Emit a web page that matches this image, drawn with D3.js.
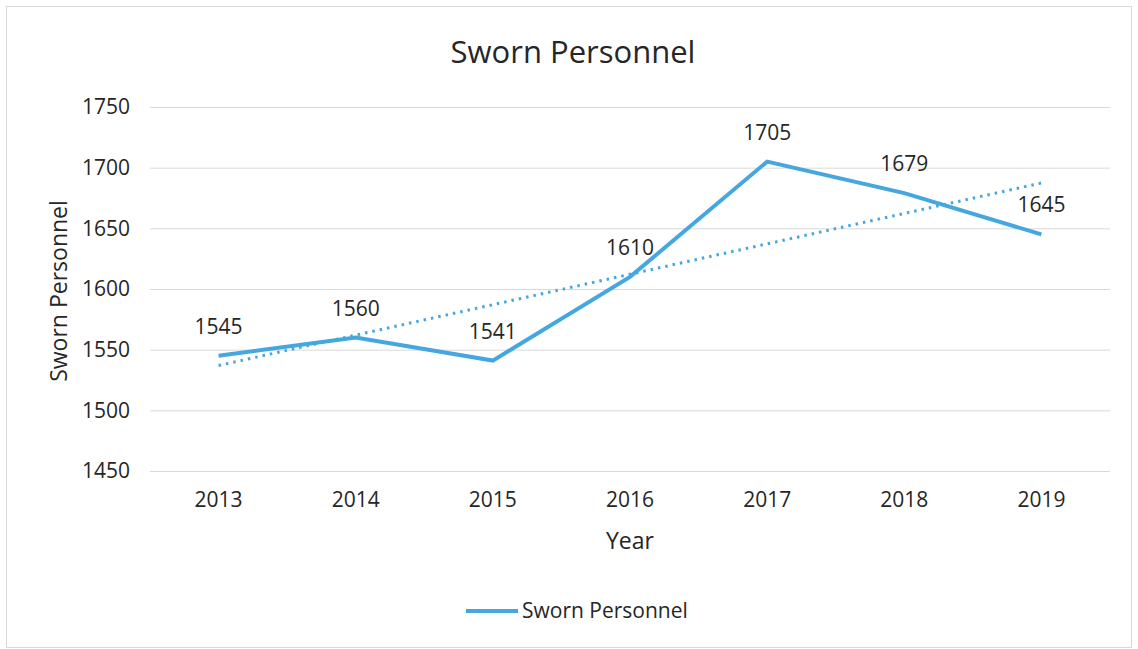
<!DOCTYPE html>
<html>
<head>
<meta charset="utf-8">
<script src="https://cdn.jsdelivr.net/npm/d3@7"></script>
<style>
  body { margin: 0; background: #fff; }
  text { font-family: "Open Sans", sans-serif; fill: #262626; }
</style>
</head>
<body>
<div id="chart"></div>
<script>
const years = ["2013", "2014", "2015", "2016", "2017", "2018", "2019"];
const sworn = [1545, 1560, 1541, 1610, 1705, 1679, 1645];
const yTicks = [1450, 1500, 1550, 1600, 1650, 1700, 1750];

const W = 1138, H = 649;
const margin = { top: 107, right: 28, bottom: 178, left: 150 };
const width = W - margin.left - margin.right;
const height = H - margin.top - margin.bottom;
const blue = "#45a7e0";

const svg = d3.select("#chart").append("svg")
    .attr("width", W)
    .attr("height", H);

// outer frame
svg.append("rect")
    .attr("x", 6.5).attr("y", 6.5)
    .attr("width", W - 13).attr("height", H - 8)
    .attr("fill", "none")
    .attr("stroke", "#d9d9d9");

const g = svg.append("g")
    .attr("transform", "translate(" + margin.left + "," + margin.top + ")");

const x = d3.scaleBand().domain(years).range([0, width]);
const y = d3.scaleLinear().domain([1450, 1750]).range([height, 0]);
const cx = d => x(d) + x.bandwidth() / 2;

// gridlines
g.append("g")
    .call(d3.axisLeft(y).tickValues(yTicks).tickSize(-width).tickFormat(""))
    .call(a => a.select(".domain").remove())
    .selectAll("line").attr("stroke", "#d9d9d9");

// y tick labels
g.append("g")
    .call(d3.axisLeft(y).tickValues(yTicks).tickSize(0).tickPadding(20).tickFormat(d3.format("d")))
    .call(a => a.select(".domain").remove())
    .selectAll("text")
    .style("font-size", "21px");

// x tick labels
g.append("g")
    .attr("transform", "translate(0," + height + ")")
    .call(d3.axisBottom(x).tickSize(0).tickPadding(21))
    .call(a => a.select(".domain").remove())
    .selectAll("text")
    .style("font-size", "21px");

// series line
const pts = years.map((yr, i) => ({ yr: yr, v: sworn[i] }));
g.append("path")
    .datum(pts)
    .attr("fill", "none")
    .attr("stroke", blue)
    .attr("stroke-width", 4)
    .attr("stroke-linejoin", "miter")
    .attr("d", d3.line().x(d => cx(d.yr)).y(d => y(d.v)));

// linear trendline (least squares)
const n = sworn.length;
const mx = d3.mean(d3.range(n));
const my = d3.mean(sworn);
const slope = d3.sum(sworn, (v, i) => (i - mx) * (v - my)) / d3.sum(d3.range(n), i => (i - mx) * (i - mx));
const icpt = my - slope * mx;
g.append("path")
    .datum([0, n - 1])
    .attr("fill", "none")
    .attr("stroke", blue)
    .attr("stroke-width", 3)
    .attr("stroke-dasharray", "2.5,5")
    .attr("d", d3.line().x(i => cx(years[i])).y(i => y(icpt + slope * i)));

// data labels
g.append("g").selectAll("text")
    .data(pts)
    .enter()
    .append("text")
    .attr("x", d => cx(d.yr))
    .attr("y", d => y(d.v) - 22)
    .attr("text-anchor", "middle")
    .style("font-size", "21px")
    .text(d => d.v);

// title
svg.append("text")
    .attr("x", 573).attr("y", 63)
    .attr("text-anchor", "middle")
    .style("font-size", "31px")
    .text("Sworn Personnel");

// axis titles
svg.append("text")
    .attr("transform", "translate(67," + (margin.top + height / 2 + 2) + ") rotate(-90)")
    .attr("text-anchor", "middle")
    .style("font-size", "23px")
    .text("Sworn Personnel");

svg.append("text")
    .attr("x", margin.left + width / 2)
    .attr("y", 549)
    .attr("text-anchor", "middle")
    .style("font-size", "23px")
    .text("Year");

// legend
const lg = svg.append("g").attr("transform", "translate(466,611)");
lg.append("line")
    .attr("x1", 0).attr("x2", 52)
    .attr("stroke", blue)
    .attr("stroke-width", 4);
lg.append("text")
    .attr("x", 56).attr("y", 7)
    .style("font-size", "21px")
    .text("Sworn Personnel");
</script>
</body>
</html>
